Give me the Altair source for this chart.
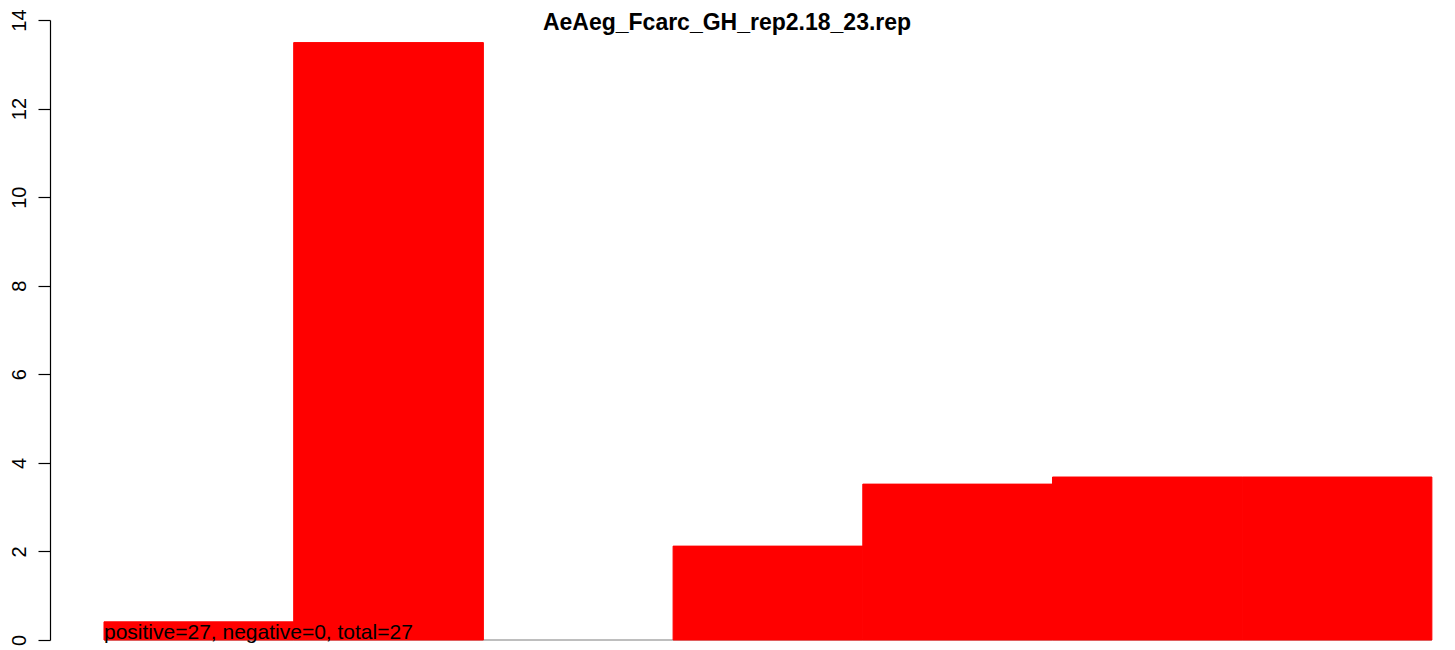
import altair as alt
import pandas as pd

# ---- data ----
bar_index = [0, 1, 2, 3, 4, 5, 6]
values = [0.41, 13.49, 0.0, 2.12, 3.52, 3.68, 3.68]
y_ticks = [0, 2, 4, 6, 8, 10, 12, 14]
title_text = "AeAeg_Fcarc_GH_rep2.18_23.rep"
note_text = "positive=27, negative=0, total=27"

df = pd.DataFrame({
    "start": bar_index,
    "end": [i + 1 for i in bar_index],
    "value": values,
})

FONT = "Liberation Sans"
W, H = 1354, 620

xscale = alt.Scale(domain=[-0.2846, 6.853], nice=False, zero=False)
yscale = alt.Scale(domain=[0, 14], nice=False)

base_rule = alt.Chart(pd.DataFrame({"a": [0], "b": [len(bar_index)], "y": [0]})).mark_rule(
    color="#a9a9a9", strokeWidth=1.5
).encode(
    x=alt.X("a:Q", scale=xscale, axis=None),
    x2="b:Q",
    y=alt.Y("y:Q", scale=yscale),
)

bars = alt.Chart(df).transform_filter("datum.value > 0").mark_bar(
    color="#ff0000", stroke="#ff0000", strokeWidth=1
).encode(
    x=alt.X("start:Q", scale=xscale, axis=None),
    x2="end:Q",
    y=alt.Y(
        "value:Q",
        scale=yscale,
        axis=alt.Axis(
            values=y_ticks,
            title=None,
            grid=False,
            labelAngle=270,
            labelAlign="center",
            labelBaseline="alphabetic",
            labelPadding=13,
            labelFontSize=20,
            labelFont=FONT,
            labelColor="black",
            tickSize=12,
            tickColor="black",
            tickWidth=1.2,
            domainColor="black",
            domainWidth=1.2,
        ),
    ),
    y2=alt.datum(0),
)

note = alt.Chart(pd.DataFrame({"x": [0], "y": [0], "t": [note_text]})).mark_text(
    align="left", baseline="alphabetic", fontSize=21, font=FONT, color="black", dy=-1
).encode(
    x=alt.X("x:Q", scale=xscale, axis=None),
    y=alt.Y("y:Q", scale=yscale),
    text="t:N",
)

title = alt.Chart(pd.DataFrame({"t": [title_text]})).mark_text(
    align="center", baseline="alphabetic", fontSize=23, font=FONT,
    fontWeight="bold", color="black"
).encode(
    x=alt.value(W / 2),
    y=alt.value(10),
    text="t:N",
)

chart = alt.layer(base_rule, bars, note, title).properties(
    width=W,
    height=H,
    autosize=alt.AutoSizeParams(type="none"),
    padding={"left": 42, "top": 12, "right": 43, "bottom": 10},
    background="white",
).configure_view(strokeOpacity=0, strokeWidth=0)

chart.save("out.html", embed_options={"renderer": "svg", "actions": False})
